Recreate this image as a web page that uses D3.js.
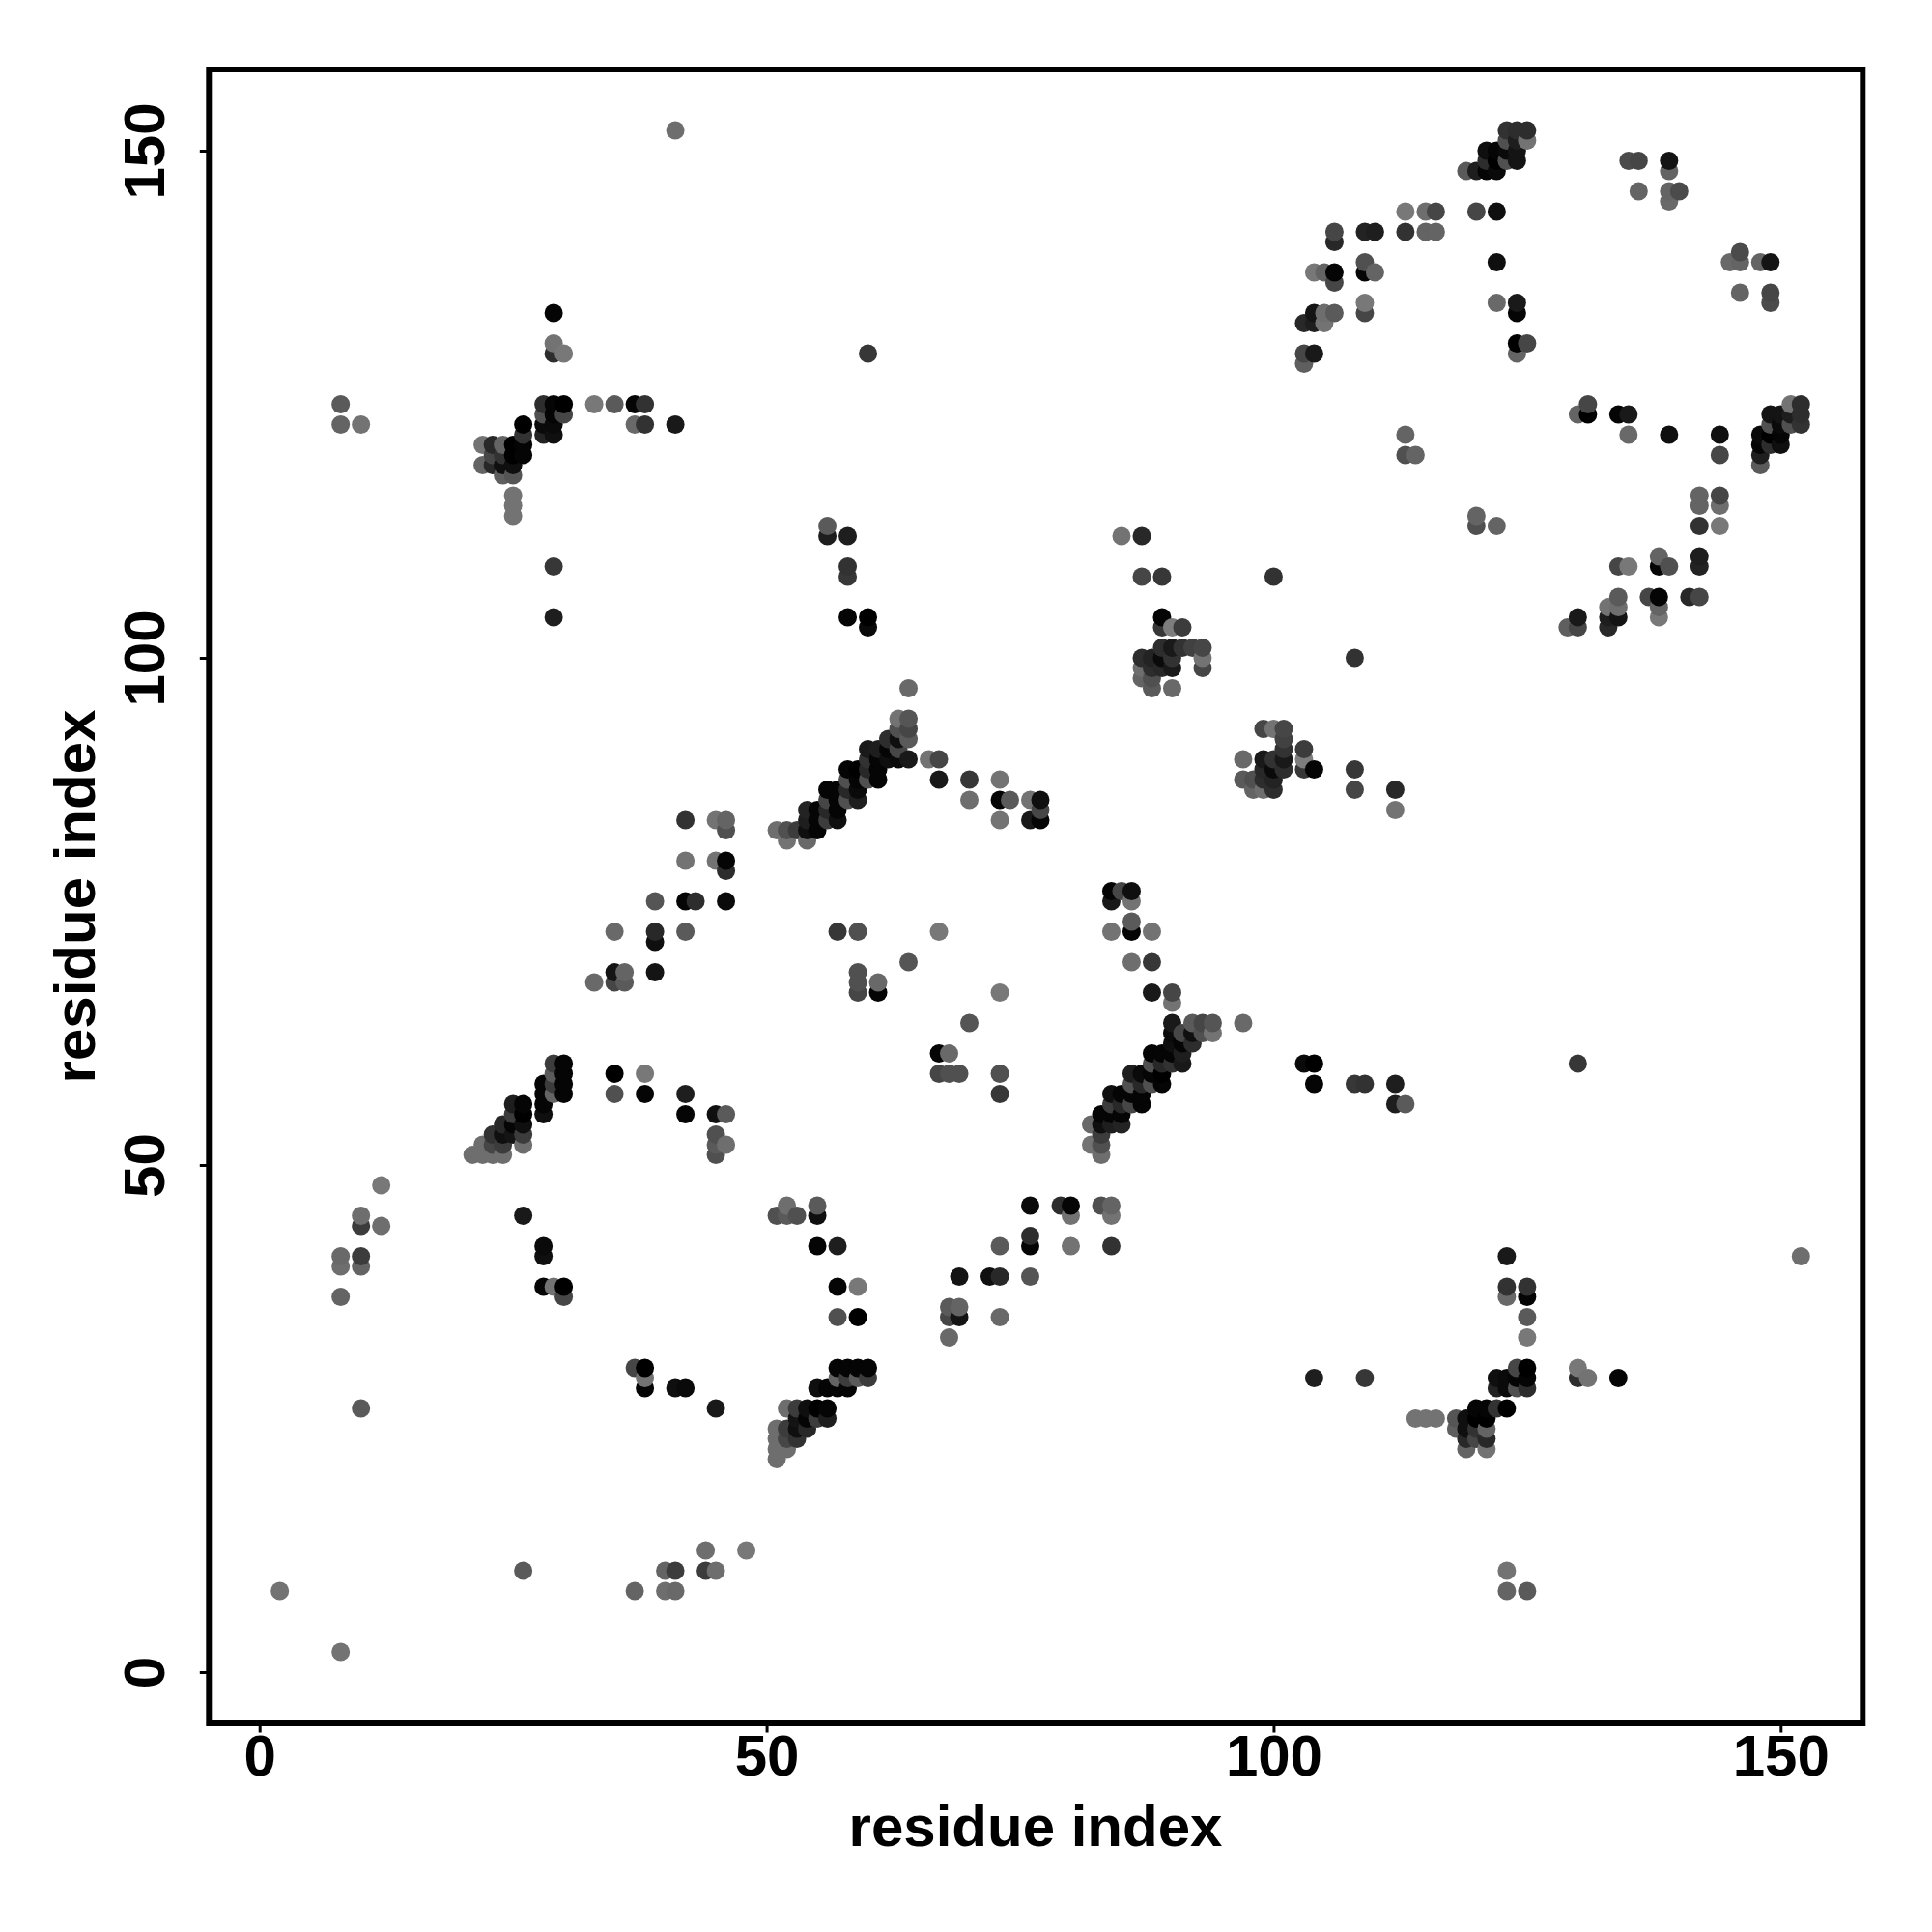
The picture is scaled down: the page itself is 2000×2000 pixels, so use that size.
<!DOCTYPE html>
<html><head><meta charset="utf-8">
<script src="https://cdn.jsdelivr.net/npm/d3@7"></script>
<style>html,body{margin:0;padding:0;background:#fff}svg{display:block}</style>
</head><body><div id="chart"></div>
<script>
// Contact pairs [residue i, residue j, grey shade 0-255]; the map is symmetric in i and j
const contactsNTerm = [
[2,8,115],[8,37,100],[8,40,110],[8,41,105],[10,40,100],[10,41,60],[10,44,60],[10,45,110],[12,44,110],[12,48,120],[10,26,90],
[8,123,100],[8,125,90],[10,123,115],
[26,45,25],[28,42,10],[28,41,15],[28,38,5],[29,38,115],[30,38,0],[30,37,70],
[33,68,105],[35,69,20],[35,68,70],[36,69,100],[36,68,90],[39,69,20],[35,73,105],[39,73,40],[39,72,15],[42,73,90],
[39,76,85],[42,76,5],[43,76,45],[46,76,10],[42,80,115],[45,80,115],[46,80,5],[46,79,45],[42,84,50],[45,84,115],[46,84,100],[46,83,80],
[35,59,0],[38,59,120],[35,57,80],[38,57,5],[42,57,30],[42,55,5],[45,55,15],[46,55,90],[45,53,80],[45,52,90],[46,52,110],[45,51,80]];
const contactsHairpin = [
[21,51,110],[22,51,110],[23,51,110],[24,51,110],[22,52,110],[23,52,70],[24,52,60],[26,52,110],[23,53,50],[24,53,15],[25,53,20],[26,53,60],
[24,54,40],[25,54,5],[26,54,15],[25,55,60],[26,55,0],[28,55,15],[25,56,30],[26,56,5],[28,56,5],[28,57,5],[29,57,100],[30,57,5],
[28,58,5],[29,58,60],[30,58,5],[29,59,90],[30,59,5],[29,60,60],[30,60,5]];
const contactsHelix = [
[51,83,110],[52,83,80],[53,83,60],[54,83,15],[55,83,5],[52,82,115],[54,82,105],[54,84,30],[55,84,5],[56,84,60],[57,84,15],
[54,85,35],[55,85,5],[56,85,40],[57,85,5],[56,86,70],[57,86,5],[58,86,80],[59,86,30],[56,87,5],[57,87,5],[58,87,40],[59,87,10],
[58,88,80],[59,88,5],[60,88,80],[61,88,5],[58,89,5],[59,89,0],[60,89,40],[61,89,5],[60,90,50],[61,90,5],[62,90,15],[63,90,10],[64,90,25],
[60,91,25],[61,91,30],[62,91,5],[63,91,70],[62,92,45],[63,92,15],[64,92,90],[63,93,80],[64,93,70],[63,94,115],[64,94,85],[64,97,105],
[66,90,115],[67,90,70],[67,88,25],[70,88,55],[73,88,115],[70,86,110],[73,86,5],[74,86,90],[73,84,115],[76,86,115],[77,86,15],[77,85,70],[76,84,25],[77,84,5],
[57,73,55],[59,73,80],[67,73,120],[64,70,85],[59,69,80],[59,68,80],[59,67,70],[61,68,105],[61,67,5]];
const contactsMiddle = [
[93,99,70],[93,100,115],[93,101,70],[92,101,65],[91,101,50],[90,101,25],[89,101,45],[91,103,60],[90,103,125],[89,103,55],[89,104,5],
[90,97,105],[90,99,25],[90,100,50],[89,99,40],[89,100,10],[88,97,90],[88,98,80],[88,99,45],[88,100,35],[87,98,100],[87,99,110],[87,100,45],
[89,108,55],[87,108,70],[87,112,40],[85,112,115],[100,108,50],
[60,103,10],[60,104,0],[58,104,5],[58,108,55],[58,109,50],[58,112,30],[56,112,30],[56,113,90],[60,130,55],[29,104,30],[29,109,55]];
const contactsCTermLeft = [
[26,123,0],[26,122,50],[26,121,5],[26,120,5],[25,121,0],[25,120,0],[25,119,15],[25,118,85],[22,121,115],[23,121,40],[24,121,100],[23,120,70],[24,120,50],
[22,119,100],[23,119,40],[24,119,15],[24,118,95],[25,116,115],[25,115,115],[25,114,115],
[28,125,45],[29,125,5],[30,125,0],[28,124,80],[29,124,5],[30,124,70],[28,123,10],[29,123,10],[28,122,35],[29,122,15],
[29,130,45],[29,131,115],[30,130,120],[29,134,5],[33,125,120],[35,125,90],[37,125,5],[38,125,50],[37,123,105],[38,123,50],[41,123,25],[41,152,110]];
const contactsCTermRight = [
[123,152,45],[124,152,40],[125,152,50],[125,151,100],[123,151,80],[124,151,30],[124,150,20],[123,150,10],[121,150,15],[122,150,5],
[121,149,45],[122,149,0],[123,149,80],[124,149,20],[119,148,90],[120,148,30],[121,148,5],[122,148,10],
[113,144,120],[115,144,110],[116,144,70],[120,144,70],[122,144,15],[106,142,70],[106,141,40],[109,142,35],[110,142,30],[113,142,50],[115,142,100],[116,142,100],
[122,139,15],[109,139,80],[109,138,5],[110,138,100],[104,138,120],[105,138,100],[106,138,5],[106,137,70],
[109,135,120],[109,134,70],[122,135,105],[124,135,25],[124,134,5],[104,134,20],[105,134,110],[106,134,90],[103,133,40],[104,133,30],[105,133,115],
[124,131,0],[125,131,70],[124,130,100],[103,130,70],[104,130,25],[103,129,95],
[135,149,75],[136,149,70],[139,149,20],[139,148,100],[136,146,100],[139,146,100],[140,146,75],[139,145,105],
[113,122,100],[113,120,80],[114,120,100],
[125,151,115],[125,152,45],[124,152,45],[123,152,50]];
const xTickValues = [0, 50, 100, 150];
const yTickValues = [0, 50, 100, 150];
const axisTitle = "residue index";

const width = 2000, height = 2000;
const frame = {left: 216.3, right: 1928.3, top: 72, bottom: 1784};
const x = d3.scaleLinear().domain([0, 150]).range([268.7, 1843.3]);
const y = d3.scaleLinear().domain([0, 150]).range([1731, 156]);

const upper = [].concat(contactsNTerm, contactsHairpin, contactsHelix, contactsMiddle, contactsCTermLeft, contactsCTermRight);
const seen = new Map();
upper.forEach(([i, j, g]) => {
  seen.set(i + "," + j, [i, j, g]);
  seen.set(j + "," + i, [j, i, g]);
});
const points = Array.from(seen.values())
  .sort((a, b) => d3.ascending(a[0], b[0]) || d3.ascending(a[1], b[1]));

const svg = d3.select("#chart").append("svg").attr("width", width).attr("height", height)
  .style("font-family", "'Liberation Sans', Arial, sans-serif").style("font-weight", "bold");
svg.append("rect").attr("width", width).attr("height", height).attr("fill", "#fff");

svg.append("g").selectAll("circle").data(points).join("circle")
  .attr("cx", d => x(d[0])).attr("cy", d => y(d[1])).attr("r", 9.5)
  .attr("fill", d => d3.rgb(d[2], d[2], d[2]).formatHex());

const xAxis = svg.append("g").attr("transform", `translate(0,${frame.bottom})`)
  .call(d3.axisBottom(x).tickValues(xTickValues).tickSize(9.5).tickFormat(d3.format("d")));
xAxis.select(".domain").remove();
xAxis.selectAll("line").attr("stroke", "#000").attr("stroke-width", 3);
xAxis.selectAll("text").attr("y", 54).attr("dy", 0).attr("font-size", 60).attr("fill", "#000");
xAxis.attr("font-family", null).attr("font-size", null);

const yAxis = svg.append("g").attr("transform", `translate(${frame.left},0)`)
  .call(d3.axisLeft(y).tickValues(yTickValues).tickSize(9.5).tickFormat(d3.format("d")));
yAxis.select(".domain").remove();
yAxis.selectAll("line").attr("stroke", "#000").attr("stroke-width", 3);
yAxis.selectAll("text").attr("x", 0).attr("y", -46).attr("dy", 0)
  .attr("transform", "rotate(-90)").attr("text-anchor", "middle").attr("font-size", 60).attr("fill", "#000");
yAxis.attr("font-family", null).attr("font-size", null);

svg.append("rect").attr("x", frame.left).attr("y", frame.top)
  .attr("width", frame.right - frame.left).attr("height", frame.bottom - frame.top)
  .attr("fill", "none").attr("stroke", "#000").attr("stroke-width", 6);

svg.append("text").attr("x", 1072).attr("y", 1911).attr("text-anchor", "middle")
  .attr("font-size", 60).text(axisTitle);
svg.append("text").attr("transform", "translate(98,928) rotate(-90)").attr("text-anchor", "middle")
  .attr("font-size", 60).text(axisTitle);
</script></body></html>
